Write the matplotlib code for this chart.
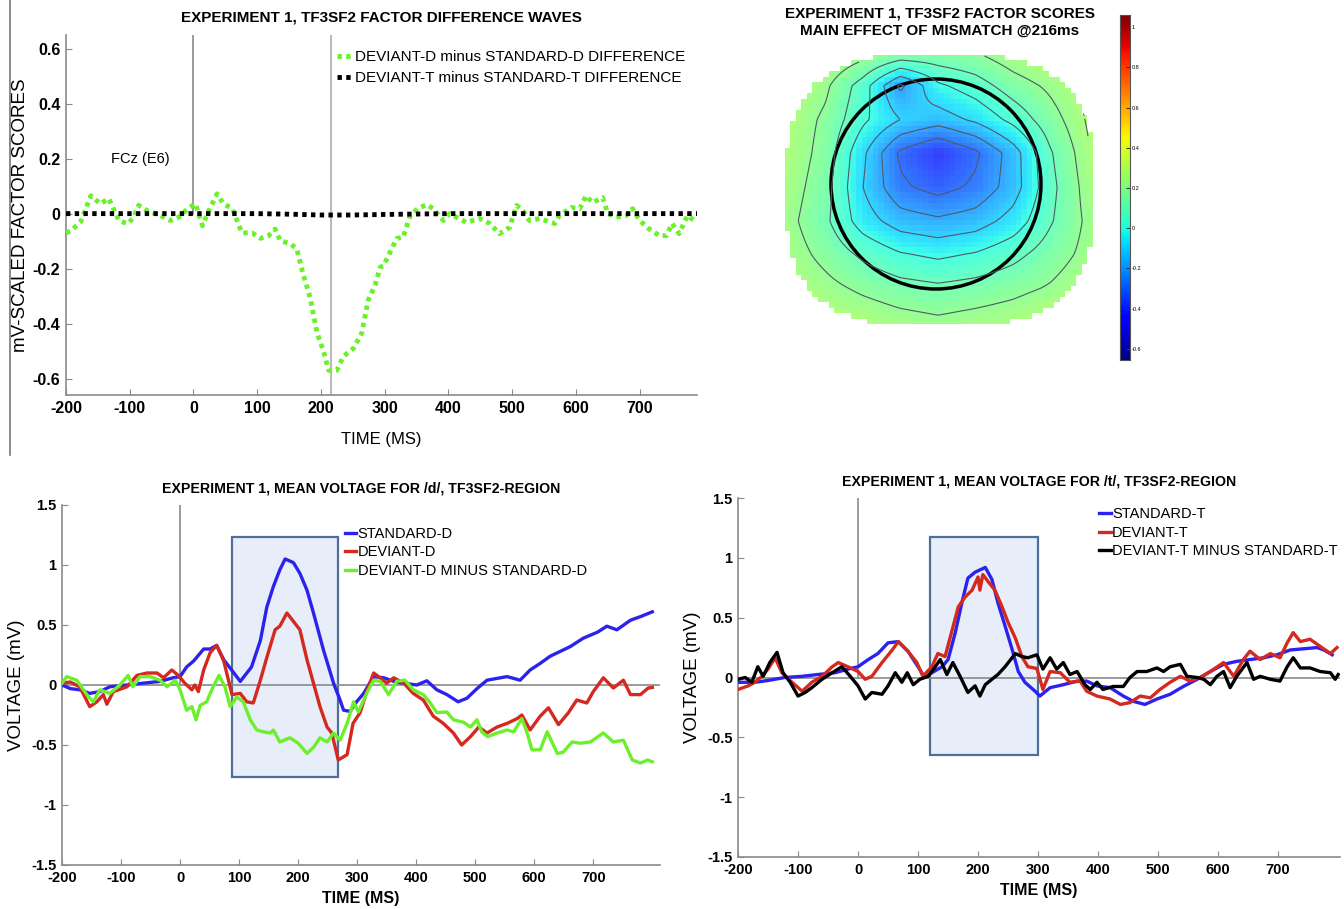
import numpy as np
import matplotlib
matplotlib.use('Agg')
import matplotlib.pyplot as plt
from matplotlib.patches import Rectangle, Circle
from matplotlib.lines import Line2D

plt.rcParams['axes.unicode_minus'] = False
NARROW = ['Liberation Sans Narrow', 'Liberation Sans', 'DejaVu Sans']
SANS = ['Liberation Sans', 'DejaVu Sans']
plt.rcParams['font.family'] = SANS

# ---- factor difference waves (top left) ----
fd_t = [-200, -192, -177, -161, -146, -133, -117, -103, -94, -86, -72, -52, -36, -23, -9, 3, 14, 22,
        37, 47, 61, 76, 92, 105, 118, 128, 136, 152, 162, 172, 183, 194, 204, 212, 225, 235, 251,
        264, 274, 285, 293, 298, 319, 329, 340, 352, 366, 376, 392, 402, 428, 449, 465, 480, 496,
        507, 517, 527, 543, 567, 574, 593, 606, 616, 626, 642, 650, 663, 679, 689, 700, 715, 731,
        742, 751, 762, 775, 790]
fd_v = [-0.07, -0.062, -0.03, 0.065, 0.036, 0.055, -0.025, -0.037, -0.013, 0.03, 0.01, -0.007,
        -0.025, -0.013, 0.018, 0.036, -0.044, 0.0, 0.072, 0.036, 0.018, -0.07, -0.07, -0.09,
        -0.08, -0.056, -0.098, -0.11, -0.128, -0.22, -0.305, -0.435, -0.5, -0.57, -0.57, -0.52,
        -0.49, -0.435, -0.316, -0.26, -0.195, -0.19, -0.09, -0.086, -0.007, 0.018, 0.033, 0.018,
        -0.025, 0.0, -0.032, -0.018, -0.036, -0.073, -0.05, 0.03, 0.01, -0.025, -0.018, -0.036,
        -0.007, 0.022, 0.018, 0.065, 0.04, 0.058, 0.0, -0.013, -0.007, 0.018, -0.025, -0.056,
        -0.08, -0.08, -0.036, -0.073, -0.007, -0.032]
ft_t = [-200, -100, 0, 100, 150, 200, 250, 300, 400, 500, 600, 700, 790]
ft_v = [0.0, 0.0, 0.0, 0.0, -0.002, -0.005, -0.005, -0.003, 0.0, 0.0, 0.0, 0.0, 0.0]

# ---- mean voltage for /d/ (bottom left) ----
std_d_t = [-200, -186, -170, -153, -136, -119, -90, -63, -34, -12, 0, 11, 23, 40, 51, 62, 74, 85,
           102, 121, 136, 147, 158, 169, 178, 192, 203, 215, 226, 243, 260, 271, 277, 288, 299,
           311, 328, 345, 362, 379, 401, 418, 435, 452, 471, 486, 503, 520, 537, 554, 576, 593,
           610, 627, 644, 661, 683, 707, 723, 740, 763, 780, 800]
std_d_v = [0.0, -0.03, -0.04, -0.07, -0.055, -0.015, 0.0, 0.015, 0.03, 0.06, 0.07, 0.15, 0.2, 0.3,
           0.3, 0.33, 0.21, 0.14, 0.03, 0.15, 0.37, 0.65, 0.82, 0.96, 1.05, 1.02, 0.93, 0.79, 0.6,
           0.29, 0.015, -0.125, -0.21, -0.22, -0.14, -0.07, 0.07, 0.06, 0.03, 0.015, 0.0, 0.035,
           -0.04, -0.08, -0.14, -0.11, -0.03, 0.04, 0.055, 0.07, 0.04, 0.125, 0.18, 0.24, 0.28,
           0.32, 0.39, 0.44, 0.49, 0.46, 0.54, 0.57, 0.61]
dev_d_t = [-200, -186, -170, -153, -141, -130, -124, -113, -90, -73, -56, -39, -28, -14, -3, 8,
           20, 25, 31, 40, 51, 62, 74, 82, 88, 102, 113, 124, 136, 147, 161, 169, 181, 192, 203,
           215, 226, 237, 249, 257, 268, 283, 293, 305, 319, 328, 339, 350, 362, 379, 395, 412,
           429, 446, 463, 477, 492, 506, 520, 537, 554, 571, 579, 593, 610, 624, 641, 658, 672,
           689, 700, 717, 734, 751, 763, 780, 793, 800]
dev_d_v = [0.015, 0.025, -0.015, -0.18, -0.14, -0.08, -0.16, -0.055, -0.015, 0.08, 0.1, 0.1, 0.06,
           0.125, 0.08, 0.015, -0.04, 0.0, -0.055, 0.125, 0.27, 0.33, 0.2, 0.04, -0.08, -0.07,
           -0.14, -0.15, 0.04, 0.23, 0.46, 0.49, 0.6, 0.53, 0.46, 0.21, 0.015, -0.18, -0.35, -0.4,
           -0.625, -0.58, -0.32, -0.23, -0.015, 0.1, 0.06, 0.015, 0.06, 0.015, -0.07, -0.125,
           -0.26, -0.32, -0.4, -0.5, -0.43, -0.35, -0.4, -0.35, -0.32, -0.28, -0.25, -0.375,
           -0.26, -0.19, -0.33, -0.23, -0.125, -0.15, -0.055, 0.06, -0.025, 0.04, -0.08, -0.08,
           -0.025, -0.02]
dif_d_t = [-200, -192, -175, -158, -147, -136, -119, -102, -88, -80, -68, -51, -34, -22, -8, 0,
           11, 20, 27, 34, 45, 56, 66, 76, 85, 96, 107, 119, 130, 141, 153, 158, 169, 186, 200,
           215, 226, 237, 249, 260, 271, 283, 294, 302, 316, 328, 339, 350, 353, 367, 381, 395,
           412, 424, 435, 452, 463, 480, 492, 503, 511, 521, 537, 554, 565, 579, 588, 596, 610,
           622, 639, 649, 664, 678, 695, 717, 734, 751, 766, 780, 792, 800]
dif_d_v = [0.015, 0.07, 0.04, -0.08, -0.14, -0.04, -0.07, 0.0, 0.08, -0.015, 0.07, 0.07, 0.04,
           -0.015, 0.04, -0.04, -0.21, -0.18, -0.29, -0.17, -0.14, -0.015, 0.08, -0.015, -0.18,
           -0.1, -0.14, -0.29, -0.375, -0.39, -0.4, -0.375, -0.475, -0.44, -0.485, -0.57, -0.52,
           -0.44, -0.475, -0.4, -0.46, -0.32, -0.14, -0.225, -0.07, 0.04, 0.03, -0.055, -0.08,
           0.03, 0.04, -0.04, -0.08, -0.15, -0.23, -0.225, -0.29, -0.31, -0.35, -0.29, -0.39,
           -0.43, -0.4, -0.375, -0.39, -0.28, -0.4, -0.54, -0.54, -0.39, -0.57, -0.56, -0.475,
           -0.485, -0.475, -0.4, -0.475, -0.46, -0.625, -0.65, -0.625, -0.64]

# ---- mean voltage for /t/ (bottom right) ----
std_t_t = [-200, -172, -150, -122, -93, -67, -38, -17, 0, 17, 33, 50, 67, 83, 100, 111, 123, 140,
           150, 162, 173, 183, 195, 212, 223, 233, 245, 257, 267, 278, 295, 303, 320, 342, 365,
           381, 398, 420, 442, 459, 478, 498, 520, 542, 565, 587, 609, 631, 653, 676, 698, 720,
           742, 765, 776, 790]
std_t_v = [-0.04, -0.04, -0.025, 0.0, 0.01, 0.025, 0.04, 0.07, 0.09, 0.15, 0.2, 0.29, 0.3, 0.22,
           0.09, 0.0, 0.04, 0.09, 0.15, 0.375, 0.625, 0.83, 0.88, 0.92, 0.82, 0.625, 0.43, 0.23,
           0.05, -0.04, -0.115, -0.155, -0.085, -0.06, -0.03, -0.03, -0.07, -0.085, -0.155,
           -0.2, -0.225, -0.18, -0.14, -0.075, -0.015, 0.05, 0.11, 0.135, 0.15, 0.165, 0.19,
           0.23, 0.24, 0.25, 0.23, 0.19]
dev_t_t = [-200, -183, -172, -160, -150, -138, -127, -110, -93, -77, -60, -43, -33, -17, 0, 12,
           23, 40, 57, 67, 83, 98, 108, 123, 133, 145, 157, 167, 178, 190, 200, 203, 208, 217,
           228, 240, 250, 262, 273, 283, 298, 308, 320, 337, 353, 370, 381, 398, 420, 437, 453,
           470, 487, 503, 520, 537, 553, 570, 587, 609, 626, 642, 653, 670, 687, 703, 715, 725,
           737, 753, 770, 787, 798]
dev_t_v = [-0.1, -0.07, -0.04, 0.01, 0.07, 0.165, 0.04, -0.04, -0.115, -0.04, 0.01, 0.09, 0.125,
           0.09, 0.05, -0.015, 0.01, 0.125, 0.23, 0.3, 0.22, 0.125, 0.01, 0.09, 0.2, 0.175, 0.4,
           0.59, 0.67, 0.73, 0.84, 0.73, 0.86, 0.8, 0.73, 0.59, 0.46, 0.33, 0.175, 0.09, 0.075,
           -0.1, 0.05, 0.04, -0.04, -0.03, -0.115, -0.155, -0.18, -0.225, -0.21, -0.155, -0.17,
           -0.1, -0.04, 0.01, -0.03, 0.0, 0.05, 0.125, 0.01, 0.15, 0.22, 0.15, 0.2, 0.165, 0.29,
           0.375, 0.3, 0.32, 0.26, 0.2, 0.25]
dif_t_t = [-200, -188, -177, -167, -158, -147, -135, -125, -113, -100, -88, -77, -60, -43, -27,
           -13, 0, 12, 23, 40, 50, 62, 73, 82, 92, 103, 117, 128, 137, 148, 158, 170, 183, 195,
           203, 212, 223, 233, 245, 262, 273, 283, 298, 308, 320, 331, 342, 353, 365, 378, 387,
           398, 408, 425, 442, 453, 465, 481, 498, 509, 520, 537, 548, 565, 576, 587, 598, 609,
           620, 631, 648, 659, 670, 687, 703, 715, 725, 737, 753, 770, 787, 795, 800]
dif_t_v = [-0.015, 0.0, -0.04, 0.09, 0.01, 0.125, 0.21, 0.04, -0.04, -0.155, -0.125, -0.085,
           -0.015, 0.04, 0.09, 0.01, -0.07, -0.18, -0.125, -0.14, -0.07, 0.04, -0.04, 0.04, -0.06,
           -0.015, 0.01, 0.085, 0.15, 0.025, 0.125, 0.01, -0.125, -0.07, -0.155, -0.06, -0.015,
           0.025, 0.09, 0.2, 0.175, 0.165, 0.19, 0.07, 0.165, 0.07, 0.125, 0.025, 0.05, -0.06,
           -0.1, -0.04, -0.1, -0.075, -0.075, 0.0, 0.05, 0.05, 0.08, 0.05, 0.09, 0.11, 0.01, 0.0,
           -0.015, -0.06, 0.01, 0.05, -0.085, 0.01, 0.125, -0.015, 0.01, -0.015, -0.03, 0.09,
           0.165, 0.08, 0.08, 0.05, 0.04, -0.015, 0.025]

# ---- factor-score topography at 216 ms, coarse grid (rows top to bottom) ----
topo_x = [-150, -112.5, -75, -37.5, 0, 37.5, 75, 112.5, 150]
topo_y = [135, 101, 67.5, 34, 0, -34, -67.5, -101, -135]
topo_v = [
    [0.32, 0.30, 0.25, 0.20, 0.18, 0.20, 0.27, 0.32, 0.32],
    [0.30, 0.22, 0.05, -0.22, -0.02, 0.05, 0.15, 0.22, 0.30],
    [0.27, 0.18, 0.02, -0.10, -0.15, -0.08, 0.03, 0.16, 0.28],
    [0.27, 0.16, -0.08, -0.32, -0.42, -0.32, -0.15, 0.09, 0.26],
    [0.25, 0.14, -0.10, -0.28, -0.34, -0.28, -0.15, 0.07, 0.24],
    [0.23, 0.12, -0.05, -0.15, -0.18, -0.15, -0.06, 0.09, 0.22],
    [0.25, 0.17, 0.08, 0.01, -0.02, 0.01, 0.07, 0.15, 0.23],
    [0.28, 0.23, 0.18, 0.14, 0.12, 0.14, 0.17, 0.21, 0.27],
    [0.33, 0.30, 0.27, 0.24, 0.22, 0.24, 0.26, 0.30, 0.33],
]
cbar_ticks = [1, 0.8, 0.6, 0.4, 0.2, 0, -0.2, -0.4, -0.6]

BLUE = '#2b22ee'
RED = '#d3291f'
GREEN = '#6cf02c'
GRAY = '#8a8a8a'

fig = plt.figure(figsize=(13.44, 9.09), dpi=100)


def px_axes(x0, y0, x1, y1):
    W, H = 1344, 909
    return fig.add_axes([x0 / W, 1 - y1 / H, (x1 - x0) / W, (y1 - y0) / H])


def style_axes(ax, fam, size, weight):
    for s in ['top', 'right']:
        ax.spines[s].set_visible(False)
    for s in ['left', 'bottom']:
        ax.spines[s].set_color(GRAY)
        ax.spines[s].set_linewidth(1.2)
    ax.tick_params(direction='in', length=4, color=GRAY, labelsize=size, pad=4)
    for lab in ax.get_xticklabels() + ax.get_yticklabels():
        lab.set_family(fam)
        lab.set_weight(weight)


# ---------- top left ----------
ax1 = px_axes(66, 35, 697, 395)
ax1.plot(fd_t, fd_v, color=GREEN, lw=3.5, ls=(0, (0.9, 0.9)), label='DEVIANT-D minus STANDARD-D DIFFERENCE', zorder=3)
ax1.plot(ft_t, ft_v, color='black', lw=3.5, ls=(0, (0.9, 0.9)), label='DEVIANT-T minus STANDARD-T DIFFERENCE', zorder=4)
ax1.plot([0, 0], [0, 0.66], color=GRAY, lw=1.2, zorder=1)
ax1.axvline(216, color='#bbbbbb', lw=1.5, zorder=1)
ax1.set_xlim(-200, 790)
ax1.set_ylim(-0.66, 0.65)
ax1.set_xticks(range(-200, 800, 100))
ax1.set_yticks([0.6, 0.4, 0.2, 0, -0.2, -0.4, -0.6])
ax1.set_yticklabels(['0.6', '0.4', '0.2', '0', '-0.2', '-0.4', '-0.6'])
style_axes(ax1, NARROW, 11.5, 'bold')
ax1.text(-130, 0.2, 'FCz (E6)', family=NARROW, fontsize=10.5, va='center')
ax1.set_title('EXPERIMENT 1, TF3SF2 FACTOR DIFFERENCE WAVES', family=NARROW, fontsize=11,
              weight='bold', pad=10)
ax1.set_xlabel('TIME (MS)', family=NARROW, fontsize=12, labelpad=12)
ax1.set_ylabel('mV-SCALED FACTOR SCORES', family=SANS, fontsize=13.5)
ax1.yaxis.set_label_coords(-0.058, 0.5)
ax1.legend(loc='upper left', bbox_to_anchor=(0.42, 0.975), frameon=False, handlelength=1.0,
           handletextpad=0.2, labelspacing=0.45, borderaxespad=0.0,
           prop={'family': NARROW, 'size': 11})

fig.add_artist(Line2D([10 / 1344, 10 / 1344], [1, 1 - 455 / 909], color='#777777', lw=1.2))

# ---------- top right: topography ----------
axm = px_axes(780, 45, 1100, 335)
gx = np.arange(-156, 160, 5.5)
gy = np.arange(-140, 140, 5.5)
fx = np.array(topo_x)
fy = np.array(topo_y)[::-1]
fv = np.array(topo_v)[::-1]


def resample(xs, ys):
    rows = np.array([np.interp(xs, fx, r) for r in fv])
    return np.array([np.interp(ys, fy, c) for c in rows.T]).T


def head_mask(xx, yy):
    return (np.abs((xx - 2) / 154.0) ** 3 + np.abs((yy + 3) / 136.0) ** 3) <= 1.0


GX, GY = np.meshgrid(gx, gy)
blocks = np.ma.masked_where(~head_mask(GX, GY), resample(gx, gy))
axm.pcolormesh(gx, gy, blocks, cmap='jet', vmin=-0.655, vmax=1.06, shading='nearest', alpha=0.8)
sx = np.linspace(-150, 150, 151)
sy = np.linspace(-135, 135, 136)
SX, SY = np.meshgrid(sx, sy)
smooth = np.ma.masked_where(~head_mask(SX, SY), resample(sx, sy))
axm.contour(sx, sy, smooth, levels=[-0.3, -0.2, -0.1, 0.0, 0.1, 0.2, 0.27],
            colors='#4e5a66', linewidths=0.8, linestyles='solid')
axm.add_patch(Circle((-2, 3), 105, fill=False, color='black', lw=2.5))
axm.set_xlim(-158, 162)
axm.set_ylim(-148, 142)
axm.set_aspect('equal')
axm.axis('off')
fig.text(940 / 1344, 1 - 13 / 909, 'EXPERIMENT 1, TF3SF2 FACTOR SCORES', ha='center', va='center',
         fontsize=11, weight='bold')
fig.text(940 / 1344, 1 - 31 / 909, 'MAIN EFFECT OF MISMATCH @216ms', ha='center', va='center',
         fontsize=11, weight='bold')

axc = px_axes(1120, 15, 1130, 360)
grad = np.linspace(-0.655, 1.06, 256).reshape(-1, 1)
axc.imshow(grad, aspect='auto', cmap='jet', origin='lower', extent=[0, 1, -0.655, 1.06])
axc.set_xticks([])
axc.yaxis.tick_right()
axc.set_yticks(cbar_ticks)
axc.set_yticklabels([('%g' % v) for v in cbar_ticks])
axc.tick_params(direction='in', length=3, labelsize=4, pad=1, color='#333333')
for s in axc.spines.values():
    s.set_color('#555555')
    s.set_linewidth(0.8)

# ---------- bottom panels ----------
def voltage_panel(box, series, shade, title):
    ax = px_axes(*box)
    ax.add_patch(Rectangle((shade[0], shade[2]), shade[1] - shade[0], shade[3] - shade[2],
                           facecolor='#e7eef9', edgecolor='#4f6e98', lw=1.6, zorder=1))
    ax.axhline(0, color=GRAY, lw=1.2, zorder=1.5)
    ax.plot([0, 0], [0, 1.5], color=GRAY, lw=1.2, zorder=1.5)
    for t, v, c, lab in series:
        ax.plot(t, v, color=c, lw=2.4, label=lab, zorder=3)
    ax.set_ylim(-1.5, 1.5)
    ax.set_xticks(range(-200, 800, 100))
    ax.set_yticks([1.5, 1, 0.5, 0, -0.5, -1, -1.5])
    ax.set_yticklabels(['1.5', '1', '0.5', '0', '-0.5', '-1', '-1.5'])
    style_axes(ax, SANS, 10.5, 'bold')
    ax.set_title(title, fontsize=10.2, weight='bold', pad=9)
    ax.set_xlabel('TIME (MS)', fontsize=11.5, weight='bold', labelpad=5)
    ax.set_ylabel('VOLTAGE (mV)', fontsize=13.5, labelpad=4)
    return ax


ax3 = voltage_panel((62, 505, 660, 865),
                    [(std_d_t, std_d_v, BLUE, 'STANDARD-D'),
                     (dev_d_t, dev_d_v, RED, 'DEVIANT-D'),
                     (dif_d_t, dif_d_v, GREEN, 'DEVIANT-D MINUS STANDARD-D')],
                    (88, 268, -0.77, 1.235),
                    'EXPERIMENT 1, MEAN VOLTAGE FOR /d/, TF3SF2-REGION')
ax3.set_xlim(-200, 813)
ax3.legend(loc='upper left', bbox_to_anchor=(0.463, 0.955), frameon=False, handlelength=0.8,
           handletextpad=0.1, labelspacing=0.3, borderaxespad=0.0, prop={'size': 10.5})

ax4 = voltage_panel((738, 498, 1340, 857),
                    [(std_t_t, std_t_v, BLUE, 'STANDARD-T'),
                     (dev_t_t, dev_t_v, RED, 'DEVIANT-T'),
                     (dif_t_t, dif_t_v, 'black', 'DEVIANT-T MINUS STANDARD-T')],
                    (120, 300, -0.65, 1.175),
                    'EXPERIMENT 1, MEAN VOLTAGE FOR /t/, TF3SF2-REGION')
ax4.set_xlim(-200, 803)
ax4.legend(loc='upper left', bbox_to_anchor=(0.59, 0.99), frameon=False, handlelength=0.8,
           handletextpad=0.1, labelspacing=0.3, borderaxespad=0.0, prop={'size': 10.5})

fig.savefig('out.png', dpi=100)
